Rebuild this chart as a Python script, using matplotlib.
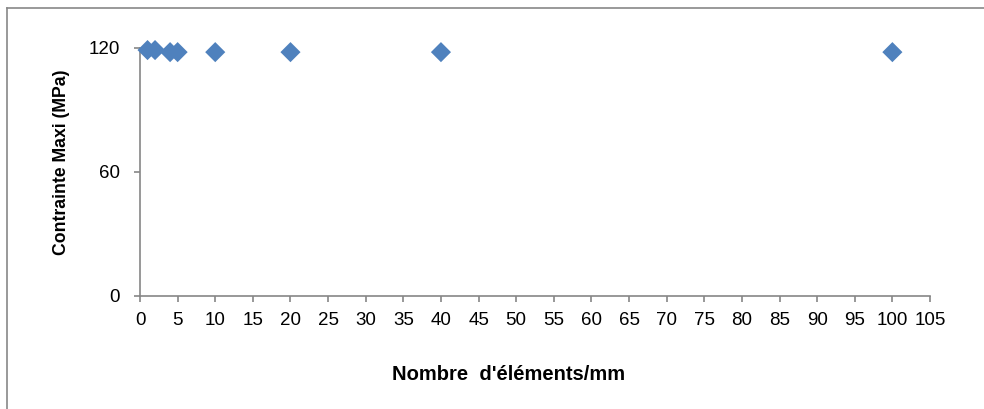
import matplotlib.pyplot as plt
from matplotlib.lines import Line2D

plt.rcParams['font.family'] = ['Liberation Sans', 'DejaVu Sans']

# nombre d'elements par mm et contrainte maxi
nb_elements = [1, 2, 4, 5, 10, 20, 40, 100]
contrainte = [119, 119, 118, 118, 118, 118, 118, 118]

x_ticks = list(range(0, 110, 5))
y_ticks = [0, 60, 120]

fig = plt.figure(figsize=(9.84, 4.09), dpi=100)
W, H = 984, 409
ax = fig.add_axes([140 / W, 1 - 296 / H, 790 / W, 248 / H])

ax.scatter(nb_elements, contrainte, marker='D', s=105, color='#4F81BD',
           edgecolors='none', zorder=3, clip_on=False)

ax.set_xlim(0, 105)
ax.set_ylim(0, 120)
ax.set_xticks(x_ticks)
ax.set_yticks(y_ticks)

for side in ['top', 'right']:
    ax.spines[side].set_visible(False)
for side in ['left', 'bottom']:
    ax.spines[side].set_color('#868686')
    ax.spines[side].set_linewidth(1.2)
ax.tick_params(direction='out', length=4.5, width=1.2, color='#868686',
               labelsize=13.5)
ax.tick_params(axis='x', pad=7)
ax.tick_params(axis='y', pad=10)

ax.set_ylabel('Contrainte Maxi (MPa)', fontsize=12.7, fontweight='bold')
ax.yaxis.set_label_coords((61 - 140) / 790, (296 - 162) / 248)
ax.yaxis.label.set_va('center')
ax.set_xlabel("Nombre  d'éléments/mm", fontsize=14.5, fontweight='bold')
ax.xaxis.set_label_coords((509 - 140) / 790, -(375 - 296) / 248)
ax.xaxis.label.set_va('center')

# cadre du graphique
fig.add_artist(Line2D([7 / W, 7 / W], [0, 1 - 8 / H], transform=fig.transFigure,
                      color='#888888', lw=1.2))
fig.add_artist(Line2D([7 / W, 1], [1 - 8 / H, 1 - 8 / H], transform=fig.transFigure,
                      color='#888888', lw=1.2))

fig.savefig('out.png', dpi=100)
